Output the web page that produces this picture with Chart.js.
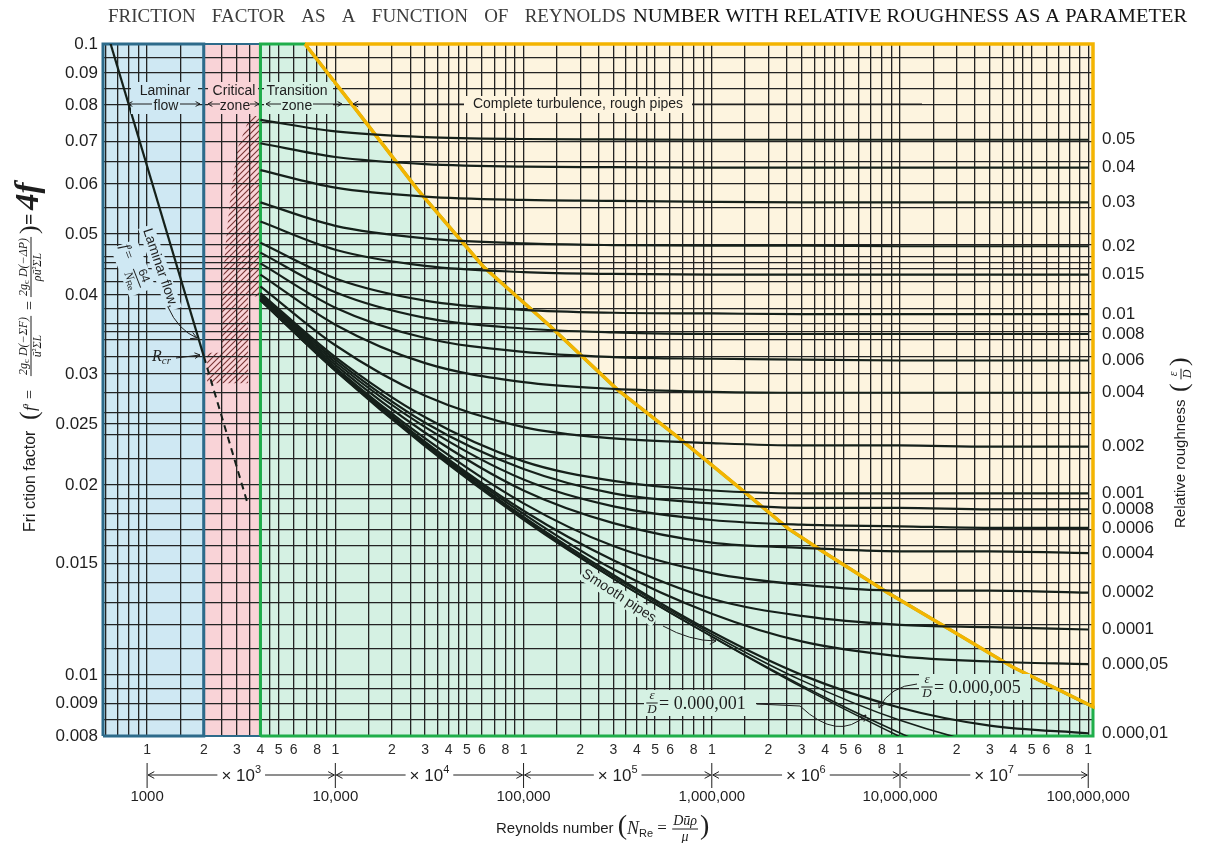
<!DOCTYPE html>
<html lang="en">
<head>
<meta charset="utf-8">
<title>Friction factor vs Reynolds number</title>
<script src="https://cdn.jsdelivr.net/npm/chart.js@4.4.1/dist/chart.umd.min.js"></script>
<style>
  html, body { margin: 0; padding: 0; background: #fff; }
  canvas { display: block; }
</style>
</head>
<body>
<canvas id="moody" width="1205" height="843"></canvas>
<script>
// Moody-type chart: friction factor f' against N_Re, one curve per relative roughness.
// Values (log-log), same Re stations for every curve.

const RE_MIN = 583, RE_MAX = 1.06e8;
const F_MIN = 0.008, F_MAX = 0.1;

const reynolds = [4000, 10000, 30000, 100000, 300000, 1e6, 3e6, 1e7, 3e7, 1e8];

const f_05     = [0.0758, 0.0727, 0.0712, 0.0707, 0.0706, 0.0705, 0.0705, 0.0705, 0.0705, 0.0705];
const f_04     = [0.0696, 0.0662, 0.0645, 0.0639, 0.0638, 0.0637, 0.0637, 0.0637, 0.0637, 0.0637];
const f_03     = [0.0631, 0.0592, 0.0573, 0.0566, 0.0564, 0.0562, 0.0561, 0.0561, 0.0561, 0.0561];
const f_02     = [0.0561, 0.0515, 0.0492, 0.0483, 0.0480, 0.0479, 0.0479, 0.0478, 0.0478, 0.0478];
const f_015    = [0.0523, 0.0472, 0.0445, 0.0435, 0.0432, 0.0431, 0.0431, 0.0431, 0.0431, 0.0431];
const f_01     = [0.0484, 0.0425, 0.0392, 0.0379, 0.0375, 0.0374, 0.0373, 0.0373, 0.0373, 0.0373];
const f_008    = [0.0467, 0.0404, 0.0368, 0.0354, 0.0349, 0.0347, 0.0347, 0.0347, 0.0347, 0.0347];
const f_006    = [0.0449, 0.0382, 0.0342, 0.0325, 0.0319, 0.0317, 0.0316, 0.0315, 0.0315, 0.0315];
const f_004    = [0.0431, 0.0359, 0.0312, 0.0291, 0.0284, 0.0281, 0.0280, 0.0280, 0.0280, 0.0280];
const f_002    = [0.0413, 0.0333, 0.0277, 0.0247, 0.0237, 0.0233, 0.0231, 0.0231, 0.0230, 0.0230];
const f_001    = [0.0403, 0.0319, 0.0256, 0.0218, 0.0203, 0.0196, 0.0194, 0.0194, 0.0194, 0.0194];
const f_0008   = [0.0401, 0.0316, 0.0251, 0.0212, 0.0194, 0.0187, 0.0184, 0.0184, 0.0183, 0.0183];
const f_0006   = [0.0399, 0.0313, 0.0247, 0.0204, 0.0185, 0.0176, 0.0173, 0.0172, 0.0171, 0.0171];
const f_0004   = [0.0397, 0.0310, 0.0242, 0.0196, 0.0174, 0.0162, 0.0159, 0.0157, 0.0157, 0.0156];
const f_0002   = [0.0395, 0.0307, 0.0237, 0.0187, 0.0160, 0.0145, 0.0139, 0.0136, 0.0136, 0.0135];
const f_0001   = [0.0394, 0.0306, 0.0234, 0.0182, 0.0152, 0.0132, 0.0124, 0.0120, 0.0119, 0.0118];
const f_00005  = [0.0394, 0.0305, 0.0233, 0.0180, 0.0147, 0.0125, 0.0113, 0.0107, 0.0105, 0.0104];
const f_00001  = [0.0393, 0.0304, 0.0232, 0.0178, 0.0144, 0.0117, 0.0100, 0.00887, 0.00831, 0.00808];
const f_000005 = [0.0393, 0.0304, 0.0231, 0.0177, 0.0143, 0.0116, 0.0098, 0.00847, 0.00774, 0.00736];
const f_000001 = [0.0393, 0.0304, 0.0231, 0.0177, 0.0142, 0.0115, 0.00962, 0.00809, 0.00707, 0.00633];
const f_smooth = [0.0392, 0.0303, 0.0230, 0.0176, 0.0142, 0.0115, 0.00957, 0.00798, 0.00685, 0.00585];

const roughLabels = ["0.05", "0.04", "0.03", "0.02", "0.015", "0.01", "0.008", "0.006", "0.004",
  "0.002", "0.001", "0.0008", "0.0006", "0.0004", "0.0002", "0.0001", "0.000,05", "0.000,01"];
const roughSeries = [f_05, f_04, f_03, f_02, f_015, f_01, f_008, f_006, f_004,
  f_002, f_001, f_0008, f_0006, f_0004, f_0002, f_0001, f_00005, f_00001];
const fineSeries = [f_000005, f_000001, f_smooth];

// laminar line f' = 64/N_Re, dashed past R_cr
const laminarRe = [600, 2000];
const laminarF = [0.1067, 0.032];
const laminarDashRe = [2000, 3400];
const laminarDashF = [0.032, 0.0188];

// zones
const criticalRe = [2000, 4000];
const boundaryRe = [6900, 12000, 27200, 61000, 138500, 314000, 655000, 1.43e6, 2.55e6, 4.0e6, 8.6e6, 1.84e7, 3.94e7, RE_MAX];
const boundaryF  = [0.1, 0.0809, 0.0589, 0.0444, 0.0357, 0.02835, 0.02386, 0.0197, 0.01705, 0.0156, 0.0135, 0.0118, 0.0103, 0.0089];
const hatchRe = [3530, 4000, 4000, 3440, 3440, 2085, 2085, 2500, 2500, 2600, 2760, 3010];
const hatchF  = [0.0769, 0.0769, 0.0398, 0.0398, 0.029, 0.029, 0.0324, 0.0324, 0.0398, 0.0473, 0.0567, 0.0681];

// ticks and grid
const yLabels = [0.1, 0.09, 0.08, 0.07, 0.06, 0.05, 0.04, 0.03, 0.025, 0.02, 0.015, 0.01, 0.009, 0.008];
const yGrid = [0.008, 0.0085, 0.009, 0.0095, 0.01, 0.011, 0.012, 0.013, 0.014, 0.015, 0.016, 0.017, 0.018,
  0.019, 0.02, 0.022, 0.024, 0.025, 0.026, 0.028, 0.03, 0.032, 0.034, 0.035, 0.036, 0.038, 0.04, 0.042,
  0.044, 0.045, 0.046, 0.048, 0.05, 0.055, 0.06, 0.065, 0.07, 0.075, 0.08, 0.085, 0.09, 0.095, 0.1];
const gridMantissa = [1, 1.5, 2, 2.5, 3, 3.5, 4, 4.5, 5, 6, 7, 8, 9];
const decadeExp = [3, 4, 5, 6, 7];
const decadeLabels = ["1000", "10,000", "100,000", "1,000,000", "10,000,000", "100,000,000"];
const xDigits = [1, 2, 3, 4, 5, 6, 8];

const xGrid = [600, 700, 800, 900];
decadeExp.forEach(p => gridMantissa.forEach(m => xGrid.push(m * Math.pow(10, p))));
xGrid.push(1e8);

const INK = '#1e1e1e';
const CURVE = '#15201a';
const SANS = '"Liberation Sans", Arial, sans-serif';
const SERIF = '"Liberation Serif", "Times New Roman", serif';

const pts = (xs, ys) => xs.map((x, i) => ({ x, y: ys[i] }));

// helpers for the annotation text
function arrowHead(ctx, x, y, ang, len) {
  ctx.beginPath();
  ctx.moveTo(x - len * Math.cos(ang - 0.5), y - len * Math.sin(ang - 0.5));
  ctx.lineTo(x, y);
  ctx.lineTo(x - len * Math.cos(ang + 0.5), y - len * Math.sin(ang + 0.5));
  ctx.stroke();
}
function arrow(ctx, x1, y1, x2, y2, len = 6) {
  ctx.beginPath(); ctx.moveTo(x1, y1); ctx.lineTo(x2, y2); ctx.stroke();
  arrowHead(ctx, x2, y2, Math.atan2(y2 - y1, x2 - x1), len);
}
function curvedArrow(ctx, x1, y1, cx, cy, x2, y2, len = 6) {
  ctx.beginPath(); ctx.moveTo(x1, y1); ctx.quadraticCurveTo(cx, cy, x2, y2); ctx.stroke();
  arrowHead(ctx, x2, y2, Math.atan2(y2 - cy, x2 - cx), len);
}
function spread(ctx, words, x0, x1, y) {
  const w = words.map(t => ctx.measureText(t).width);
  const gap = (x1 - x0 - w.reduce((s, v) => s + v, 0)) / (words.length - 1);
  let xx = x0;
  words.forEach((t, i) => { ctx.fillText(t, xx, y); xx += w[i] + gap; });
}
function fit(ctx, text, x0, x1, y) {
  const w = ctx.measureText(text).width;
  ctx.save(); ctx.translate(x0, y); ctx.scale((x1 - x0) / w, 1); ctx.fillText(text, 0, 0); ctx.restore();
}
function runsWidth(ctx, parts) {
  let w = 0;
  for (const [t, font] of parts) { ctx.font = font; w += ctx.measureText(t).width; }
  return w;
}
function runs(ctx, parts, x, y) {
  let xx = x;
  for (const [t, font, dy] of parts) {
    ctx.font = font; ctx.fillText(t, xx, y + (dy || 0)); xx += ctx.measureText(t).width;
  }
  return xx - x;
}
function fraction(ctx, num, den, cx, y, gap) {
  const wn = runsWidth(ctx, num), wd = runsWidth(ctx, den), w = Math.max(wn, wd);
  runs(ctx, num, cx - wn / 2, y - gap);
  runs(ctx, den, cx - wd / 2, y + gap);
  ctx.beginPath(); ctx.moveTo(cx - w / 2 - 1, y); ctx.lineTo(cx + w / 2 + 1, y); ctx.stroke();
  return w;
}
function box(ctx, x0, y0, x1, y1, color) {
  const keep = ctx.fillStyle;
  ctx.fillStyle = color; ctx.fillRect(x0, y0, x1 - x0, y1 - y0); ctx.fillStyle = keep;
}

const BLUE_BG = '#cfe8f3', PINK_BG = '#f9d3d7', GREEN_BG = '#d5f1e3', BEIGE_BG = '#fdf4df';

const annotate = {
  id: 'annotate',
  afterDraw(chart) {
    const { ctx, scales: { x, y } } = chart;
    const X = v => x.getPixelForValue(v), Y = v => y.getPixelForValue(v);
    ctx.save();
    ctx.textBaseline = 'middle';
    ctx.strokeStyle = INK; ctx.fillStyle = INK; ctx.lineWidth = 1;

    // title
    ctx.fillStyle = '#3c3c3c'; ctx.textAlign = 'left';
    ctx.font = '19px ' + SERIF;
    spread(ctx, ['FRICTION', 'FACTOR', 'AS', 'A', 'FUNCTION', 'OF', 'REYNOLDS'], 108, 626, 17);
    ctx.fillStyle = '#141414';
    ctx.font = '19px ' + SERIF;
    fit(ctx, 'NUMBER WITH RELATIVE ROUGHNESS AS A PARAMETER', 633, 1187, 17);

    // friction factor ticks (left) and roughness labels (right)
    ctx.fillStyle = INK; ctx.font = '17px ' + SANS; ctx.textAlign = 'right';
    yLabels.forEach(v => ctx.fillText(String(v), 98, Y(v)));
    ctx.textAlign = 'left';
    roughLabels.forEach((t, i) => {
      const s = roughSeries[i];
      ctx.fillText(t, 1102, Y(s[s.length - 1]));
    });

    // Reynolds number axis: digits, decade arrows, decade values
    ctx.textAlign = 'center'; ctx.font = '14px ' + SANS; ctx.fillStyle = '#2a2a2a';
    decadeExp.forEach(p => xDigits.forEach(d => ctx.fillText(String(d), X(d * Math.pow(10, p)), 750)));
    ctx.fillText('1', X(1e8), 750);
    ctx.fillStyle = INK;
    const decadeVals = decadeLabels.map((t, i) => Math.pow(10, 3 + i));
    decadeVals.forEach(v => {
      ctx.beginPath(); ctx.moveTo(X(v), 763); ctx.lineTo(X(v), 788); ctx.stroke();
    });
    for (let i = 0; i < decadeVals.length - 1; i++) {
      const xa = X(decadeVals[i]), xb = X(decadeVals[i + 1]), xm = (xa + xb) / 2;
      const parts = [['× 10', '17px ' + SANS, 0], [String(decadeExp[i]), '11px ' + SANS, -6]];
      const tw = runsWidth(ctx, parts);
      ctx.textAlign = 'left';
      runs(ctx, parts, xm - tw / 2, 776);
      arrow(ctx, xm - tw / 2 - 4, 775, xa + 1, 775, 7);
      arrow(ctx, xm + tw / 2 + 4, 775, xb - 1, 775, 7);
    }
    ctx.textAlign = 'center'; ctx.font = '15px ' + SANS;
    decadeVals.forEach((v, i) => ctx.fillText(decadeLabels[i], X(v), 797));

    // x title
    ctx.textAlign = 'left';
    let bx = 496;
    bx += runs(ctx, [['Reynolds number ', '15px ' + SANS]], bx, 829);
    bx += runs(ctx, [['(', '28px ' + SERIF, 0]], bx, 827);
    bx += runs(ctx, [['N', 'italic 18px ' + SERIF, 0], ['Re', '11px ' + SANS, 5], [' = ', '17px ' + SERIF, 0]], bx, 829);
    const fw = runsWidth(ctx, [['Dūρ', 'italic 14px ' + SERIF]]);
    fraction(ctx, [['Dūρ', 'italic 14px ' + SERIF]], [['μ', 'italic 14px ' + SERIF]], bx + fw / 2 + 2, 829, 8);
    bx += fw + 5;
    runs(ctx, [[')', '28px ' + SERIF, 0]], bx, 827);

    // left axis title (rotated)
    ctx.save();
    ctx.translate(31, 532); ctx.rotate(-Math.PI / 2);
    runs(ctx, [['Fri ction factor', '16px ' + SANS]], 0, 0);
    runs(ctx, [['(', '26px ' + SERIF]], 112, -1);
    runs(ctx, [['f', 'italic 17px ' + SERIF], ['′', '15px ' + SERIF], [' =', '16px ' + SERIF]], 121, 0);
    const sub = '9px ' + SERIF, mi = 'italic 12px ' + SERIF;
    fraction(ctx, [['2', mi], ['g', mi], ['c', sub, 3], [' D(−ΣF)', mi]], [['ū', mi], ['²', sub, -2], ['ΣL', mi]], 186, 0, 7);
    runs(ctx, [['=', '16px ' + SERIF]], 222, 0);
    fraction(ctx, [['2', mi], ['g', mi], ['c', sub, 3], [' D(−ΔP)', mi]], [['ρū', mi], ['²', sub, -2], ['ΣL', mi]], 265, 0, 7);
    runs(ctx, [[')', '26px ' + SERIF]], 298, -1);
    runs(ctx, [['=', 'bold 20px ' + SERIF]], 307, 0);
    runs(ctx, [['4f', 'bold italic 33px ' + SERIF]], 322, -2);
    ctx.restore();

    // right axis title (rotated)
    ctx.save();
    ctx.translate(1181, 528); ctx.rotate(-Math.PI / 2);
    runs(ctx, [['Relative roughness', '15px ' + SANS]], 0, 0);
    runs(ctx, [['(', '26px ' + SERIF]], 136, -1);
    fraction(ctx, [['ε', 'italic 12px ' + SERIF]], [['D', 'italic 12px ' + SERIF]], 154, 0, 7);
    runs(ctx, [[')', '26px ' + SERIF]], 162, -1);
    ctx.restore();

    // zone labels
    ctx.font = '14px ' + SANS; ctx.textAlign = 'center';
    box(ctx, 131, 82, 198, 114, BLUE_BG);
    ctx.fillText('Laminar', 165, 91); ctx.fillText('flow', 166, 106);
    arrow(ctx, 152, 104, 128, 104, 5); arrow(ctx, 180, 104, 200, 104, 5);
    box(ctx, 208, 82, 258, 114, PINK_BG);
    ctx.fillText('Critical', 234, 91); ctx.fillText('zone', 235, 106);
    arrow(ctx, 220, 104, 208, 104, 5); arrow(ctx, 250, 104, 259, 104, 5);
    box(ctx, 264, 82, 333, 114, GREEN_BG);
    ctx.fillText('Transition', 297, 91); ctx.fillText('zone', 297, 106);
    arrow(ctx, 281, 104, 266, 104, 5); arrow(ctx, 313, 104, 342, 104, 5);
    box(ctx, 464, 96, 692, 113, BEIGE_BG);
    ctx.fillText('Complete turbulence, rough pipes', 578, 104);
    arrow(ctx, 464, 104, 353, 104, 6);
    ctx.beginPath(); ctx.moveTo(692, 104); ctx.lineTo(922, 104); ctx.stroke();

    // laminar flow notes
    ctx.save();
    ctx.translate(160, 268); ctx.rotate(1.24);
    box(ctx, -44, -8, 44, 8, BLUE_BG);
    ctx.font = '14px ' + SANS; ctx.fillText('Laminar flow,', 0, 0);
    ctx.restore();
    ctx.save();
    ctx.translate(133, 268); ctx.rotate(1.2);
    box(ctx, -26, -14, 26, 14, BLUE_BG);
    ctx.textAlign = 'left';
    runs(ctx, [['f', 'italic 15px ' + SERIF], ['′', '13px ' + SERIF], ['=', '14px ' + SERIF]], -25, 0);
    fraction(ctx, [['64', '12px ' + SANS]], [['N', 'italic 12px ' + SERIF], ['Re', '8px ' + SANS, 3]], 11, 0, 7);
    ctx.restore();
    curvedArrow(ctx, 168, 307, 178, 330, 197, 338, 7);
    ctx.textAlign = 'left';
    runs(ctx, [['R', 'italic 16px ' + SERIF], ['cr', 'italic 11px ' + SERIF, 4]], 152, 357);
    arrow(ctx, 176, 358, 200, 355, 6);

    // smooth pipes and fine roughness notes
    ctx.save();
    ctx.translate(619, 596); ctx.rotate(0.58);
    box(ctx, -44, -8, 44, 8, GREEN_BG);
    ctx.textAlign = 'center'; ctx.font = '14px ' + SANS; ctx.fillText('Smooth pipes', 0, 0);
    ctx.restore();
    curvedArrow(ctx, 663, 626, 690, 641, 716, 641, 7);

    ctx.textAlign = 'left';
    box(ctx, 644, 690, 756, 716, GREEN_BG);
    fraction(ctx, [['ε', 'italic 13px ' + SERIF]], [['D', 'italic 13px ' + SERIF]], 652, 703, 7);
    runs(ctx, [['= 0.000,001', '18px ' + SERIF]], 659, 704);
    ctx.beginPath(); ctx.moveTo(757, 704); ctx.lineTo(800, 706); ctx.stroke();
    curvedArrow(ctx, 800, 706, 838, 742, 866, 715, 7);

    box(ctx, 919, 674, 1030, 700, GREEN_BG);
    fraction(ctx, [['ε', 'italic 13px ' + SERIF]], [['D', 'italic 13px ' + SERIF]], 927, 687, 7);
    runs(ctx, [['= 0.000,005', '18px ' + SERIF]], 934, 688);
    curvedArrow(ctx, 917, 684, 890, 686, 879, 708, 7);

    ctx.restore();
  }
};

const ctx = document.getElementById('moody').getContext('2d');

// hatching for the critical zone
const hatchTile = document.createElement('canvas');
hatchTile.width = 6; hatchTile.height = 6;
const hc = hatchTile.getContext('2d');
hc.strokeStyle = '#7a3434'; hc.lineWidth = 1.1;
hc.beginPath();
hc.moveTo(0, 6); hc.lineTo(6, 0);
hc.moveTo(-1, 1); hc.lineTo(1, -1);
hc.moveTo(5, 7); hc.lineTo(7, 5);
hc.stroke();
const hatchPattern = ctx.createPattern(hatchTile, 'repeat');

const datasets = [
  { // laminar zone
    data: pts([RE_MIN, RE_MIN, criticalRe[0], criticalRe[0], RE_MIN], [F_MIN, F_MAX, F_MAX, F_MIN, F_MIN]),
    backgroundColor: BLUE_BG, borderColor: '#2d6b8b', borderWidth: 3, fill: 'shape', order: 11, clip: 4
  },
  { // critical zone
    data: pts([criticalRe[0], criticalRe[0], criticalRe[1], criticalRe[1], criticalRe[0]], [F_MIN, F_MAX, F_MAX, F_MIN, F_MIN]),
    backgroundColor: PINK_BG, borderColor: '#2d6b8b', borderWidth: 2, fill: 'shape', order: 10, clip: 4
  },
  { // transition zone
    data: pts([criticalRe[1], criticalRe[1], ...boundaryRe, RE_MAX, criticalRe[1]], [F_MIN, F_MAX, ...boundaryF, F_MIN, F_MIN]),
    backgroundColor: GREEN_BG, borderColor: '#1fae4a', borderWidth: 3, fill: 'shape', order: 9, clip: 4
  },
  { // complete turbulence
    data: pts([...boundaryRe, RE_MAX, boundaryRe[0]], [...boundaryF, F_MAX, F_MAX]),
    backgroundColor: BEIGE_BG, borderColor: '#f4b400', borderWidth: 3.5, fill: 'shape', order: 8, clip: 4
  },
  { // hatched critical band
    data: pts([...hatchRe, hatchRe[0]], [...hatchF, hatchF[0]]),
    backgroundColor: hatchPattern, borderWidth: 0, fill: 'shape', order: 7
  },
  { // laminar line
    data: pts(laminarRe, laminarF), borderColor: CURVE, borderWidth: 2.2, fill: false, order: 2
  },
  {
    data: pts(laminarDashRe, laminarDashF), borderColor: CURVE, borderWidth: 2, borderDash: [7, 5], fill: false, order: 2
  }
];
roughSeries.forEach(s => datasets.push({
  data: pts(reynolds, s), borderColor: CURVE, borderWidth: 2.2,
  cubicInterpolationMode: 'monotone', fill: false, order: 1
}));
fineSeries.forEach(s => datasets.push({
  data: pts(reynolds, s), borderColor: CURVE, borderWidth: 1.6,
  cubicInterpolationMode: 'monotone', fill: false, order: 1
}));

new Chart(ctx, {
  type: 'line',
  data: { datasets },
  options: {
    responsive: false,
    animation: false,
    devicePixelRatio: 1,
    events: [],
    layout: { padding: { left: 103, right: 112, top: 44, bottom: 107 } },
    elements: { point: { radius: 0 }, line: { tension: 0 } },
    plugins: {
      legend: { display: false },
      tooltip: { enabled: false },
      filler: { drawTime: 'beforeDraw' }
    },
    scales: {
      x: {
        type: 'logarithmic', min: RE_MIN, max: RE_MAX,
        afterBuildTicks: s => { s.ticks = xGrid.map(v => ({ value: v })); },
        ticks: { display: false, autoSkip: false },
        grid: { color: '#232323', lineWidth: 1.3, drawTicks: false },
        border: { display: false }
      },
      y: {
        type: 'logarithmic', min: F_MIN, max: F_MAX,
        afterBuildTicks: s => { s.ticks = yGrid.map(v => ({ value: v })); },
        ticks: { display: false, autoSkip: false },
        grid: { color: '#232323', lineWidth: 1.3, drawTicks: false },
        border: { display: false }
      }
    }
  },
  plugins: [annotate]
});
</script>
</body>
</html>
